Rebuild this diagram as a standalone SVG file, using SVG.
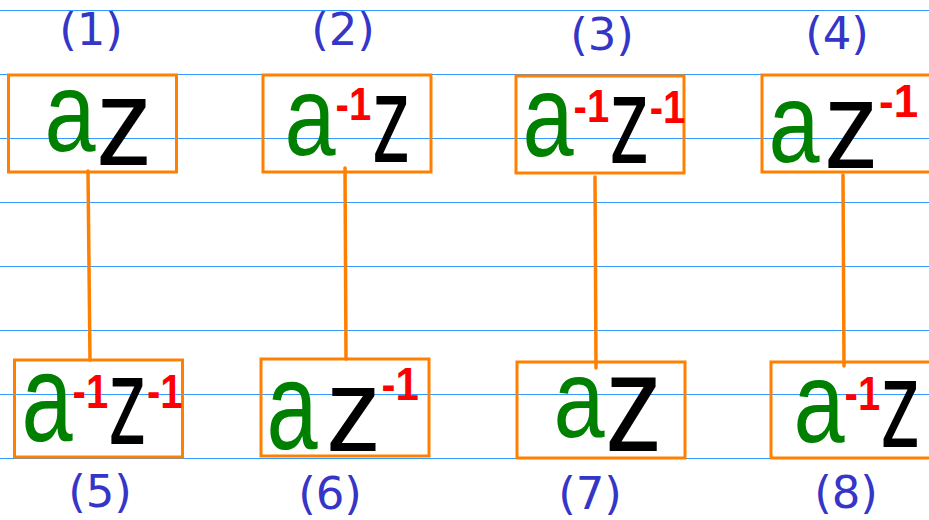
<svg xmlns="http://www.w3.org/2000/svg" width="929" height="520" viewBox="0 0 929 520">
<style>
.rule{stroke:#3399ff;stroke-width:1.2}
.box{fill:none;stroke:#ff8000;stroke-width:3}
.conn{stroke:#ff8000;stroke-width:3.5;stroke-linecap:round}
.lbl{fill:#3535c8;font-family:"DejaVu Sans",sans-serif;font-size:45px;text-anchor:middle}
.a{fill:#008000;font-family:"Liberation Sans",Arial,sans-serif;font-size:108px}
.z{fill:#000;font-family:"Liberation Sans",Arial,sans-serif;font-size:125px}
.e{fill:#ff0000;font-family:"Liberation Sans",Arial,sans-serif;font-size:40px;font-weight:bold}
</style>
<rect width="929" height="520" fill="#fff"/>
<g id="rules">
<line class="rule" x1="0" y1="10.5" x2="929" y2="10.5"/>
<line class="rule" x1="0" y1="74.5" x2="929" y2="74.5"/>
<line class="rule" x1="0" y1="138.5" x2="929" y2="138.5"/>
<line class="rule" x1="0" y1="202.5" x2="929" y2="202.5"/>
<line class="rule" x1="0" y1="266.5" x2="929" y2="266.5"/>
<line class="rule" x1="0" y1="330.5" x2="929" y2="330.5"/>
<line class="rule" x1="0" y1="394.5" x2="929" y2="394.5"/>
<line class="rule" x1="0" y1="458.5" x2="929" y2="458.5"/>
</g>
<g id="connectors">
<line class="conn" x1="88" y1="171" x2="90" y2="360"/>
<line class="conn" x1="345" y1="168" x2="346" y2="359"/>
<line class="conn" x1="595" y1="177" x2="596" y2="368"/>
<line class="conn" x1="843" y1="175" x2="844" y2="366"/>
</g>
<g id="node1">
<rect class="box" x="8.5" y="75" width="168" height="97"/>
<text class="lbl" x="91" y="45">(1)</text>
<text class="a" transform="translate(44.6,151) scale(0.85,1.05)">a</text>
<text class="z" transform="translate(96,165) scale(0.9,1)">z</text>
</g>
<g id="node2">
<rect class="box" x="263" y="75" width="168" height="97"/>
<text class="lbl" x="343" y="45">(2)</text>
<text class="a" transform="translate(284.6,155) scale(0.85,1.05)">a</text>
<text class="e" transform="translate(335.6,120) scale(1,1.15)">-1</text>
<text class="z" transform="translate(372,162) scale(0.62,1)">z</text>
</g>
<g id="node3">
<rect class="box" x="516" y="76" width="168" height="97"/>
<text class="lbl" x="602" y="50">(3)</text>
<text class="a" transform="translate(522.6,156) scale(0.85,1.08)">a</text>
<text class="e" transform="translate(573.6,122) scale(1,1.15)">-1</text>
<text class="z" transform="translate(609.2,163) scale(0.65,1)">z</text>
<text class="e" transform="translate(649.8,123) scale(1,1.15)">-1</text>
</g>
<g id="node4">
<rect class="box" x="762" y="75" width="175" height="97"/>
<text class="lbl" x="837" y="49">(4)</text>
<text class="a" transform="translate(768.6,162) scale(0.85,1.05)">a</text>
<text class="z" transform="translate(824,168) scale(0.87,1)">z</text>
<text class="e" transform="translate(879,117) scale(1.1,1.15)">-1</text>
</g>
<g id="node5">
<rect class="box" x="14.5" y="360" width="168" height="97"/>
<text class="lbl" x="100" y="507">(5)</text>
<text class="a" transform="translate(21.6,441) scale(0.85,1.15)">a</text>
<text class="e" transform="translate(72.6,408) scale(1,1.2)">-1</text>
<text class="z" transform="translate(108.2,444) scale(0.62,1)">z</text>
<text class="e" transform="translate(147,408) scale(1,1.2)">-1</text>
</g>
<g id="node6">
<rect class="box" x="261" y="359" width="168" height="97"/>
<text class="lbl" x="330" y="509">(6)</text>
<text class="a" transform="translate(266.6,449) scale(0.85,1.15)">a</text>
<text class="z" transform="translate(326,451) scale(0.88,0.95)">z</text>
<text class="e" transform="translate(381.5,400) scale(1.05,1.15)">-1</text>
</g>
<g id="node7">
<rect class="box" x="517" y="362" width="168" height="96"/>
<text class="lbl" x="590" y="509">(7)</text>
<text class="a" transform="translate(553.6,437) scale(0.85,1.03)">a</text>
<text class="z" transform="translate(605,451) scale(0.92,1.12)">z</text>
</g>
<g id="node8">
<rect class="box" x="771" y="362" width="166" height="96"/>
<text class="lbl" x="846" y="508">(8)</text>
<text class="a" transform="translate(793.6,442) scale(0.85,1.07)">a</text>
<text class="e" transform="translate(844.6,410) scale(1,1.2)">-1</text>
<text class="z" transform="translate(880.2,447) scale(0.65,1)">z</text>
</g>
</svg>
